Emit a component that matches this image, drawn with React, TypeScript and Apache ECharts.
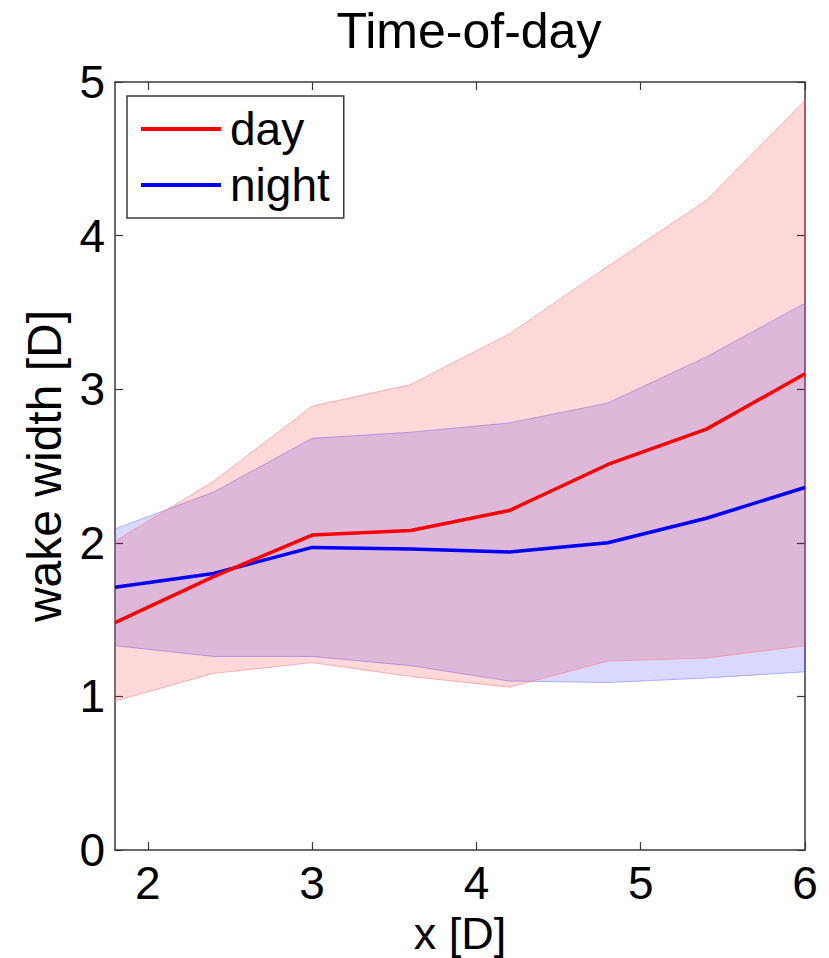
import React, { useEffect, useRef } from "react";
import * as echarts from "echarts";

// Sample positions along the wake (in rotor diameters)
const xValues = [1.8, 2.4, 3.0, 3.6, 4.2, 4.8, 5.4, 6.0];

// Day-time wake width: mean and spread envelope
const dayMean = [1.48, 1.78, 2.05, 2.08, 2.21, 2.51, 2.74, 3.1];
const dayUpper = [2.01, 2.4, 2.89, 3.03, 3.36, 3.8, 4.23, 4.88];
const dayLower = [0.97, 1.15, 1.22, 1.13, 1.06, 1.23, 1.25, 1.33];

// Night-time wake width: mean and spread envelope
const nightMean = [1.71, 1.8, 1.97, 1.96, 1.94, 2.0, 2.16, 2.36];
const nightUpper = [2.09, 2.33, 2.68, 2.72, 2.78, 2.91, 3.21, 3.56];
const nightLower = [1.33, 1.26, 1.26, 1.2, 1.1, 1.09, 1.12, 1.16];

const xTicks = [2, 3, 4, 5, 6];
const seriesNames = ["day", "night"];

const FONT = "'Liberation Sans', Arial, Helvetica, sans-serif";
const AXIS_COLOR = "#3a3a3a";

function zip(xs: number[], ys: number[]) {
  return xs.map((x, i) => [x, ys[i]]);
}

// Custom series that draws one filled envelope polygon through the axis scales
function bandSeries(lower: number[], upper: number[], fill: string, stroke: string) {
  const data = xValues.map((x, i) => [x, lower[i], upper[i]]);
  return {
    type: "custom",
    silent: true,
    encode: { x: 0, y: [1, 2] },
    data,
    renderItem: (params: any, api: any) => {
      if (params.dataIndex !== 0) return null;
      const top = data.map((d) => api.coord([d[0], d[2]]));
      const bottom = data
        .slice()
        .reverse()
        .map((d) => api.coord([d[0], d[1]]));
      return {
        type: "polygon",
        shape: { points: top.concat(bottom) },
        style: { fill, stroke, lineWidth: 1 },
      };
    },
    z: 1,
  };
}

export default function App() {
  const ref = useRef<HTMLDivElement>(null);

  useEffect(() => {
    if (!ref.current) return;
    const chart = echarts.init(ref.current, undefined, { renderer: "svg" });

    const axisCommon = {
      axisLine: { show: true, onZero: false, lineStyle: { color: AXIS_COLOR, width: 1.5 } },
      axisTick: { show: true, inside: true, length: 8, lineStyle: { color: AXIS_COLOR, width: 1.2 } },
      splitLine: { show: false },
    };

    chart.setOption({
      animation: false,
      backgroundColor: "#ffffff",
      title: {
        text: "Time-of-day",
        left: 464,
        top: 1,
        textAlign: "center",
        textStyle: { fontFamily: FONT, fontSize: 50, fontWeight: "normal", color: "#000" },
      },
      legend: {
        data: seriesNames,
        orient: "vertical",
        left: 127,
        top: 96,
        padding: [8, 14, 8, 14],
        itemGap: 6,
        itemWidth: 80,
        itemHeight: 4,
        icon: "rect",
        borderColor: AXIS_COLOR,
        borderWidth: 1.5,
        backgroundColor: "#ffffff",
        textStyle: {
          fontFamily: FONT,
          fontSize: 46,
          color: "#000",
          lineHeight: 50,
          padding: [0, 0, 0, 4],
        },
      },
      grid: {
        left: 115,
        right: 24,
        top: 82,
        bottom: 108,
        containLabel: false,
        outerBoundsMode: "none",
      },
      xAxis: [
        {
          type: "value",
          min: 1.8,
          max: 6,
          position: "bottom",
          ...axisCommon,
          axisTick: { ...axisCommon.axisTick, customValues: xTicks },
          axisLabel: {
            customValues: xTicks,
            margin: 10,
            fontFamily: FONT,
            fontSize: 46,
            color: "#000",
          },
          name: "x [D]",
          nameLocation: "middle",
          nameGap: 52,
          nameTextStyle: { fontFamily: FONT, fontSize: 45, lineHeight: 44, color: "#000" },
        },
        {
          type: "value",
          min: 1.8,
          max: 6,
          position: "top",
          ...axisCommon,
          axisTick: { ...axisCommon.axisTick, customValues: xTicks },
          axisLabel: { show: false },
        },
      ],
      yAxis: [
        {
          type: "value",
          min: 0,
          max: 5,
          interval: 1,
          position: "left",
          ...axisCommon,
          axisLabel: { margin: 10, fontFamily: FONT, fontSize: 46, color: "#000" },
          name: "wake width [D]",
          nameLocation: "middle",
          nameGap: 46,
          nameTextStyle: { fontFamily: FONT, fontSize: 48, color: "#000" },
        },
        {
          type: "value",
          min: 0,
          max: 5,
          interval: 1,
          position: "right",
          ...axisCommon,
          axisLabel: { show: false },
        },
      ],
      series: [
        bandSeries(nightLower, nightUpper, "rgba(0,0,255,0.15)", "rgba(110,110,255,0.5)"),
        bandSeries(dayLower, dayUpper, "rgba(255,0,0,0.15)", "rgba(255,110,110,0.5)"),
        {
          name: "night",
          type: "line",
          data: zip(xValues, nightMean),
          symbol: "none",
          lineStyle: { color: "#0000ff", width: 3.5 },
          itemStyle: { color: "#0000ff" },
          z: 3,
        },
        {
          name: "day",
          type: "line",
          data: zip(xValues, dayMean),
          symbol: "none",
          lineStyle: { color: "#ff0000", width: 3.5 },
          itemStyle: { color: "#ff0000" },
          z: 4,
        },
      ],
    });

    return () => chart.dispose();
  }, []);

  return (
    <div
      ref={ref}
      style={{ position: "absolute", left: 0, top: 0, width: 829, height: 958 }}
    />
  );
}
